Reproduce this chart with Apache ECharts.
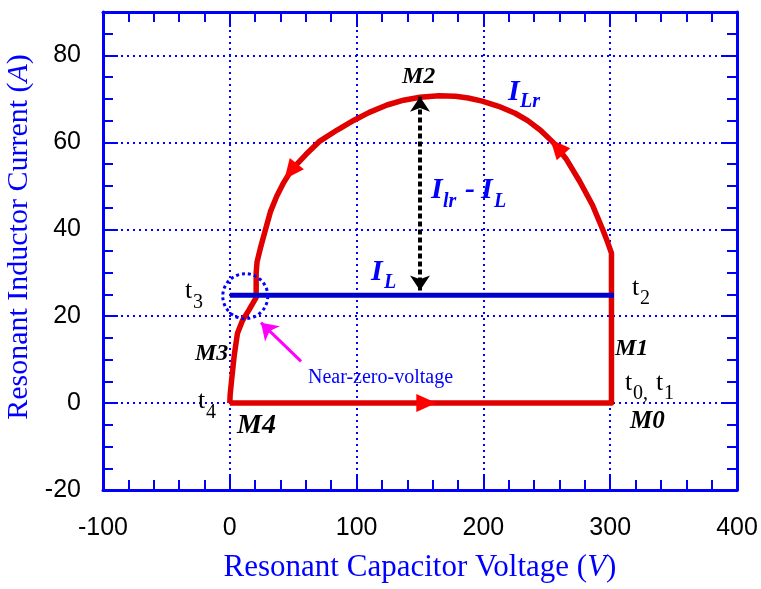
<!DOCTYPE html>
<html>
<head>
<meta charset="utf-8">
<script src="https://cdn.jsdelivr.net/npm/echarts@6/dist/echarts.min.js"></script>
<style>html,body{margin:0;padding:0;background:#fff}#c{width:761px;height:589px}</style>
</head>
<body>
<div id="c"></div>
<script>
// Resonant capacitor voltage (V) / inductor current (A) trajectory, starting at t4 (0,0)
const loopV = [0, 301, 301, 298, 294, 286, 276, 265, 255, 245, 235, 225, 212, 199, 188, 178, 165, 150, 137, 124, 110, 98, 85, 71, 60, 49, 42, 37, 32, 28, 24, 21.5, 20.8, 20.8, 15.3, 10, 6, 3.5, 1.5, 0.3, 0];
const loopI = [0, 0, 34.5, 37, 40, 45.6, 51, 56.3, 60, 62.8, 65, 66.7, 68.3, 69.5, 70.2, 70.6, 70.7, 70.4, 69.7, 68.6, 66.9, 65.1, 62.9, 60.3, 57.2, 53.8, 50.5, 47.6, 44, 39.8, 35.5, 32.5, 30, 24.3, 21.5, 19, 16, 11, 5.5, 2, 0];
// Load current I_L
const ilV = [0, 303];
const ilI = [24.8, 24.8];
// Direction arrows on the trajectory
const arrowV = [155, 258, 48];
const arrowI = [0, 59, 53.3];
const arrowDir = [-90, 41, 142];
// Difference marker I_lr - I_L
const diffV = [150, 150];
const diffI = [25.9, 70.5];
// Near-zero-voltage circle and pointer
const circleV = [12.2];
const circleI = [24.6];
const pointerV = [56.2, 24.6];
const pointerI = [9.6, 18.5];

const BLUE = '#0000ff';
const RED = '#e00000';
const serif = '"Liberation Serif", "Times New Roman", serif';
const sans = '"Liberation Sans", Arial, sans-serif';

function txt(x, baseline, s, size, opts) {
  opts = opts || {};
  return {
    type: 'text', z: 100,
    style: {
      x: x, y: baseline - 0.338 * size, text: s,
      font: (opts.italic ? 'italic ' : '') + (opts.bold ? 'bold ' : '') + size + 'px ' + serif,
      fill: opts.color || '#000', textAlign: 'left', textVerticalAlign: 'middle'
    }
  };
}

const graphics = [
  txt(402, 85, 'M2', 24, {bold: true, italic: true}),
  txt(615, 357, 'M1', 24, {bold: true, italic: true}),
  txt(630, 430, 'M0', 25, {bold: true, italic: true}),
  txt(195, 362, 'M3', 24, {bold: true, italic: true}),
  txt(237, 435, 'M4', 28, {bold: true, italic: true}),
  txt(185, 300, 't', 26), txt(193, 310, '3', 20),
  txt(198, 410, 't', 26), txt(206, 420, '4', 20),
  txt(632, 297, 't', 26), txt(640, 306, '2', 20),
  txt(625, 392, 't', 26), txt(633, 401, '0,', 20),
  txt(656, 392, 't', 26), txt(664, 401, '1', 20),
  txt(508, 102, 'I', 30, {bold: true, italic: true, color: BLUE}),
  txt(520, 109, 'Lr', 20, {bold: true, italic: true, color: BLUE}),
  txt(431, 200, 'I', 30, {bold: true, italic: true, color: BLUE}),
  txt(443, 209, 'lr', 20, {bold: true, italic: true, color: BLUE}),
  txt(465, 200, '-', 30, {bold: true, italic: true, color: BLUE}),
  txt(481, 200, 'I', 30, {bold: true, italic: true, color: BLUE}),
  txt(494, 209, 'L', 20, {bold: true, italic: true, color: BLUE}),
  txt(371, 282, 'I', 30, {bold: true, italic: true, color: BLUE}),
  txt(384, 290, 'L', 20, {bold: true, italic: true, color: BLUE}),
  txt(308, 385, 'Near-zero-voltage', 20, {color: BLUE})
];

function axisCommon(extra) {
  return Object.assign({
    axisLine: {show: true, onZero: false, lineStyle: {color: BLUE, width: 3}},
    axisTick: {show: true, inside: true, length: 15, lineStyle: {color: BLUE, width: 2}},
    minorTick: {show: true, length: 10, lineStyle: {color: BLUE, width: 2}},
    splitLine: {show: false}
  }, extra);
}

const chart = echarts.init(document.getElementById('c'), null, {renderer: 'canvas'});
chart.setOption({
  animation: false,
  backgroundColor: '#fff',
  grid: {left: 103, right: 24, top: 12, bottom: 99, containLabel: false, outerBoundsMode: 'none'},
  xAxis: [
    axisCommon({
      type: 'value', min: -100, max: 400, interval: 100, position: 'bottom',
      minorTick: {show: true, splitNumber: 5, length: 10, lineStyle: {color: BLUE, width: 2}},
      axisLabel: {color: '#000', fontSize: 25, fontFamily: sans, margin: 26},
      splitLine: {show: true, lineStyle: {color: BLUE, width: 2, type: [2, 4]}},
      name: 'Resonant Capacitor Voltage ({i|V})', nameLocation: 'middle', nameGap: 62,
      nameTextStyle: {color: BLUE, fontSize: 31, fontFamily: serif,
        rich: {i: {color: BLUE, fontSize: 31, fontFamily: serif, fontStyle: 'italic'}}}
    }),
    axisCommon({
      type: 'value', min: -100, max: 400, interval: 100, position: 'top',
      minorTick: {show: true, splitNumber: 5, length: 10, lineStyle: {color: BLUE, width: 2}},
      axisLabel: {show: false}
    })
  ],
  yAxis: [
    axisCommon({
      type: 'value', min: -20, max: 90, interval: 20, position: 'left',
      minorTick: {show: true, splitNumber: 4, length: 10, lineStyle: {color: BLUE, width: 2}},
      axisLabel: {color: '#000', fontSize: 25, fontFamily: sans, margin: 22,
        formatter: function (v) { return v > 80 ? '' : v; }},
      splitLine: {show: true, lineStyle: {color: BLUE, width: 2, type: [2, 4]}},
      name: 'Resonant Inductor Current ({i|A})', nameLocation: 'middle', nameGap: 64,
      nameTextStyle: {color: BLUE, fontSize: 30, fontFamily: serif, padding: [0, 0, 0, 28],
        rich: {i: {color: BLUE, fontSize: 30, fontFamily: serif, fontStyle: 'italic'}}}
    }),
    axisCommon({
      type: 'value', min: -20, max: 90, interval: 20, position: 'right',
      minorTick: {show: true, splitNumber: 4, length: 10, lineStyle: {color: BLUE, width: 2}},
      axisLabel: {show: false}
    })
  ],
  series: [
    {
      type: 'line', name: 'I_Lr', xAxisIndex: 0, yAxisIndex: 0,
      data: loopV.map((v, i) => [v, loopI[i]]),
      showSymbol: false, symbol: 'none', smooth: false, z: 3,
      lineStyle: {color: RED, width: 5.5, join: 'round'}
    },
    {
      type: 'line', name: 'I_L', xAxisIndex: 0, yAxisIndex: 0,
      data: ilV.map((v, i) => [v, ilI[i]]),
      showSymbol: false, symbol: 'none', z: 4,
      lineStyle: {color: '#0000cc', width: 5}
    },
    {
      type: 'scatter', name: 'direction', xAxisIndex: 0, yAxisIndex: 0, z: 5,
      data: arrowV.map((v, i) => ({value: [v, arrowI[i]], symbolRotate: arrowDir[i]})),
      symbol: 'triangle', symbolSize: [18, 20],
      itemStyle: {color: '#ff0000', opacity: 1}
    },
    {
      type: 'lines', name: 'diff', coordinateSystem: 'cartesian2d', xAxisIndex: 0, yAxisIndex: 0, z: 6,
      data: [{coords: diffV.map((v, i) => [v, diffI[i]])}],
      symbol: ['arrow', 'arrow'], symbolSize: 15,
      lineStyle: {color: '#000', width: 4, type: [5, 3], opacity: 1}
    },
    {
      type: 'scatter', name: 'circle', xAxisIndex: 0, yAxisIndex: 0, z: 6,
      data: circleV.map((v, i) => [v, circleI[i]]),
      symbol: 'circle', symbolSize: 45,
      itemStyle: {color: 'rgba(0,0,0,0)', borderColor: BLUE, borderWidth: 3, borderType: [3, 3], opacity: 1}
    },
    {
      type: 'lines', name: 'pointer', coordinateSystem: 'cartesian2d', xAxisIndex: 0, yAxisIndex: 0, z: 6,
      data: [{coords: pointerV.map((v, i) => [v, pointerI[i]])}],
      symbol: ['none', 'arrow'], symbolSize: 16,
      lineStyle: {color: '#ff00ff', width: 3, opacity: 1}
    }
  ],
  graphic: graphics
});
</script>
</body>
</html>
